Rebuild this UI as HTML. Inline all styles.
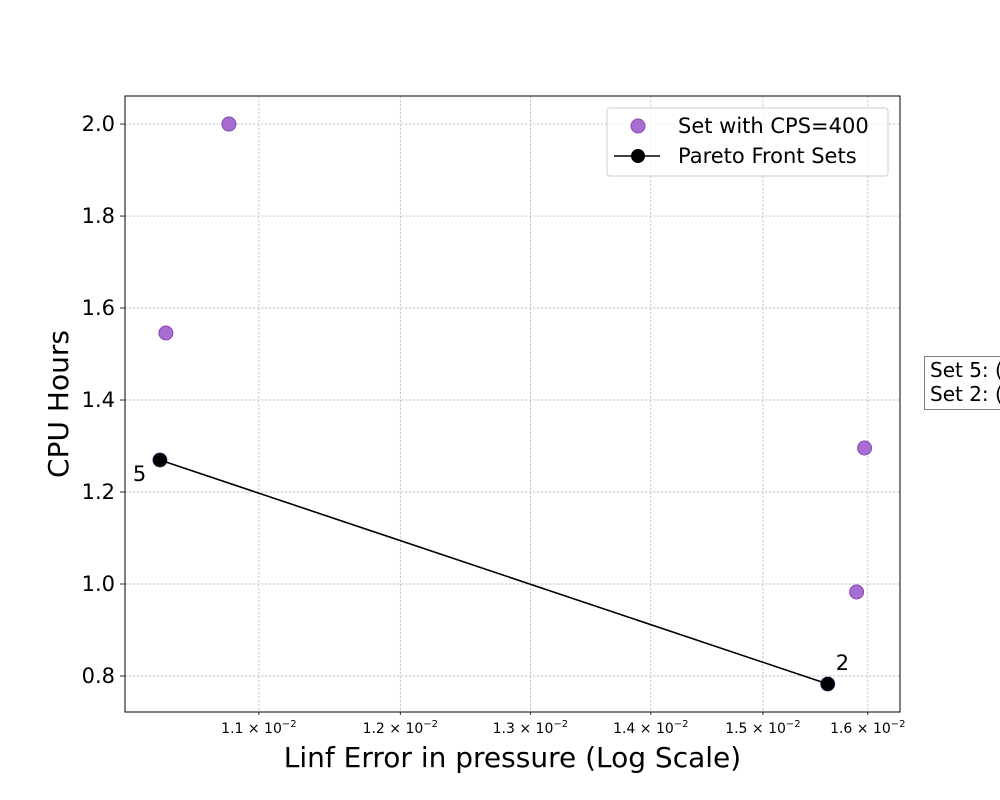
<!DOCTYPE html>
<html><head><meta charset="utf-8"><style>
body{margin:0;background:#fff;}
svg{display:block;font-family:"DejaVu Sans","Liberation Sans",sans-serif;}
</style></head><body>
<svg id="chart" width="1000" height="800" viewBox="0 0 1000 800"></svg>
<script>
const setX = [1.0799e-2, 1.0388e-2, 1.5968e-2, 1.589e-2, 1.035e-2, 1.561e-2];
const setY = [2.0, 1.5457, 1.2957, 0.9826, 1.2696, 0.7826];
const paretoX = [1.035e-2, 1.561e-2];
const paretoY = [1.2696, 0.7826];
const paretoLabels = ["5", "2"];
const xTicks = [1.1e-2, 1.2e-2, 1.3e-2, 1.4e-2, 1.5e-2, 1.6e-2];
const xTickLabels = ["1.1", "1.2", "1.3", "1.4", "1.5", "1.6"];
const yTicks = [0.8, 1.0, 1.2, 1.4, 1.6, 1.8, 2.0];
const yTickLabels = ["0.8", "1.0", "1.2", "1.4", "1.6", "1.8", "2.0"];

const L=125,R=900,T=96,B=712;
const xmin=1.0130e-2,xmax=1.632e-2,ymin=0.7217,ymax=2.061;
const xs=v=>L+(Math.log10(v)-Math.log10(xmin))/(Math.log10(xmax)-Math.log10(xmin))*(R-L);
const ys=v=>B-(v-ymin)/(ymax-ymin)*(B-T);
const svg=document.getElementById('chart');
const NS='http://www.w3.org/2000/svg';
function mk(tag,attrs,parent){const e=document.createElementNS(NS,tag);for(const k in attrs)e.setAttribute(k,attrs[k]);(parent||svg).appendChild(e);return e;}

xTicks.forEach((t,i)=>{
  const x=xs(t);
  const g=mk('line',{x1:x,x2:x,y1:T,y2:B,stroke:'#b0b0b0','stroke-width':0.7,'stroke-dasharray':'2.5,1.5'});
  
  
  const tk=mk('line',{x1:x,x2:x,y1:B,y2:B+3,stroke:'#000','stroke-width':0.8});
  
  
  const tx=mk('text',{x:x,y:B+21,'font-size':14,'text-anchor':'middle'});
  tx.innerHTML=xTickLabels[i]+' \u00d7 10<tspan dy="-6" font-size="10">\u22122</tspan>';
  
  
});
yTicks.forEach((t,i)=>{
  const y=ys(t);
  const g=mk('line',{x1:L,x2:R,y1:y,y2:y,stroke:'#b0b0b0','stroke-width':0.7,'stroke-dasharray':'2.5,1.5'});
  
  
  const tk=mk('line',{x1:L-5,x2:L,y1:y,y2:y,stroke:'#000','stroke-width':0.8});
  
  
  const tx=mk('text',{x:L-10,y:y+7,'font-size':21,'text-anchor':'end'});
  tx.textContent=yTickLabels[i];
  
  
});

setX.forEach((v,i)=>{
  const c=mk('circle',{cx:xs(v),cy:ys(setY[i]),r:7,fill:'#9954c8','fill-opacity':0.85,stroke:'#8a45bb','stroke-width':1});
  
  
});
const pts=paretoX.map((v,i)=>xs(v)+','+ys(paretoY[i])).join(' ');
const pl=mk('polyline',{points:pts,fill:'none',stroke:'#000','stroke-width':1.6});


paretoX.forEach((v,i)=>{
  const c=mk('circle',{cx:xs(v),cy:ys(paretoY[i]),r:7,fill:'#000'});
  
  
});
const an1=mk('text',{x:xs(paretoX[0])-27,y:ys(paretoY[0])+21,'font-size':21});
an1.textContent=paretoLabels[0];


const an2=mk('text',{x:xs(paretoX[1])+8,y:ys(paretoY[1])-14,'font-size':21});
an2.textContent=paretoLabels[1];



const fr=mk('rect',{x:L,y:T,width:R-L,height:B-T,fill:'none',stroke:'#000','stroke-width':1});



const xt=mk('text',{x:(L+R)/2,y:767,'font-size':28,'text-anchor':'middle'});
xt.textContent='Linf Error in pressure (Log Scale)';


const yt=mk('text',{x:0,y:0,'font-size':28,'text-anchor':'middle',transform:'translate(68,404) rotate(-90)'});
yt.textContent='CPU Hours';



const lg=mk('g',{});


mk('rect',{x:607,y:108,width:281,height:68,rx:3,fill:'#fff','fill-opacity':0.8,stroke:'#ccc','stroke-width':1},lg);
mk('circle',{cx:638,cy:126,r:7,fill:'#9954c8','fill-opacity':0.85,stroke:'#8a45bb'},lg);
const l1=mk('text',{x:678,y:133,'font-size':21},lg);l1.textContent='Set with CPS=400';
mk('line',{x1:614,x2:660,y1:156,y2:156,stroke:'#000','stroke-width':1.6},lg);
mk('circle',{cx:638,cy:156,r:7,fill:'#000'},lg);
const l2=mk('text',{x:678,y:163,'font-size':21},lg);l2.textContent='Pareto Front Sets';

const bx=mk('g',{});


mk('rect',{x:924.5,y:356.5,width:120,height:53,fill:'#fff',stroke:'#808080','stroke-width':1},bx);
const b1=mk('text',{x:930,y:377,'font-size':20},bx);b1.textContent='Set 5: (0.0104, 1.27)';
const b2=mk('text',{x:930,y:401,'font-size':20},bx);b2.textContent='Set 2: (0.0156, 0.78)';
</script>
</body></html>
